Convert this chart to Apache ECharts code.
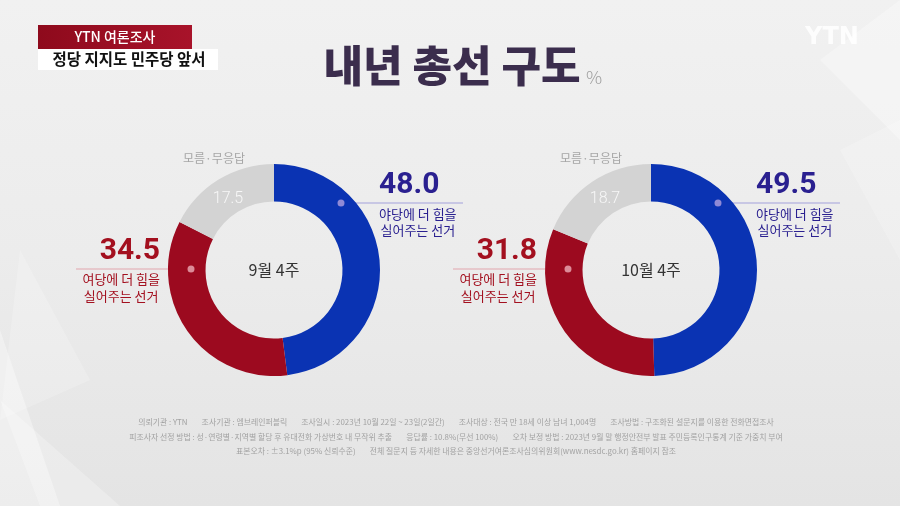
<!DOCTYPE html>
<html>
<head>
<meta charset="utf-8">
<script src="https://cdn.jsdelivr.net/npm/echarts@6/dist/echarts.min.js"></script>
<style>
html,body{margin:0;padding:0;background:#ececec;}
#chart{width:900px;height:506px;}
</style>
</head>
<body>
<div id="chart"></div>
<script>
// ---- data ----
const categories = ['야당에 더 힘을 실어주는 선거', '여당에 더 힘을 실어주는 선거', '모름·무응답'];
const categoryLines = [['야당에 더 힘을', '실어주는 선거'], ['여당에 더 힘을', '실어주는 선거'], ['모름·무응답']];
const weeks = ['9월 4주', '10월 4주'];
const septValues = [48.0, 34.5, 17.5];
const octValues = [49.5, 31.8, 18.7];
const titleText = '내년 총선 구도';
const unitText = '%';
const headerTop = 'YTN 여론조사';
const headerSub = '정당 지지도 민주당 앞서';
const footLines = [
  '의뢰기관 : YTN        조사기관 : 엠브레인퍼블릭        조사일시 : 2023년 10월 22일 ~ 23일(2일간)        조사대상 : 전국 만 18세 이상 남녀 1,004명        조사방법 : 구조화된 설문지를 이용한 전화면접조사',
  '피조사자 선정 방법 : 성·연령별·지역별 할당 후 유대전화 가상번호 내 무작위 추출        응답률 : 10.8%(무선 100%)        오차 보정 방법 : 2023년 9월 말 행정안전부 발표 주민등록인구통계 기준 가중치 부여',
  '표본오차 : ±3.1%p (95% 신뢰수준)        전체 질문지 등 자세한 내용은 중앙선거여론조사심의위원회(www.nesdc.go.kr) 홈페이지 참조'
];

// ---- layout / style ----
const KR = '"Noto Sans CJK KR", "Noto Sans", sans-serif';
const centers = [[274, 270], [651, 270]];
const radii = [68.5, 106];
const colors = ['#0a33b3', '#9c0a1f', '#d3d3d3'];
const blueText = '#2a2090', redText = '#a3101f';
const blueLine = '#a4a2dc', redLine = '#e2a6ae';

const chart = echarts.init(document.getElementById('chart'));

function labelFmt(p) {
  const i = p.dataIndex;
  if (i === 2) return '{g|' + p.value.toFixed(1) + '}';
  const k = i === 0 ? 'B' : 'R';
  return '{n' + k + '|' + p.value.toFixed(1) + '}\n{a' + k + '|' + categoryLines[i][0] + '}\n{b' + k + '|' + categoryLines[i][1] + '}';
}

function makeSeries(values, si) {
  const c = centers[si];
  return {
    type: 'pie',
    center: c,
    radius: radii,
    startAngle: 90,
    clockwise: true,
    silent: true,
    avoidLabelOverlap: false,
    data: values.map((v, i) => ({
      name: categories[i],
      value: v,
      itemStyle: { color: colors[i] },
      label: i === 2 ? { position: 'inside' } : { position: 'outside' },
      labelLine: { show: i !== 2 }
    })),
    label: {
      formatter: labelFmt,
      rich: {
        nB: { fontFamily: 'Roboto, sans-serif', fontSize: 30, fontWeight: 'bold', color: blueText, lineHeight: 35, align: 'left' },
        aB: { fontFamily: KR, fontSize: 13, color: blueText, lineHeight: 23, align: 'center' },
        bB: { fontFamily: KR, fontSize: 13, color: blueText, lineHeight: 8, align: 'center' },
        nR: { fontFamily: 'Roboto, sans-serif', fontSize: 30, fontWeight: 'bold', color: redText, lineHeight: 35, align: 'right' },
        aR: { fontFamily: KR, fontSize: 13, color: redText, lineHeight: 21, align: 'center' },
        bR: { fontFamily: KR, fontSize: 13, color: redText, lineHeight: 12, align: 'center' },
        g: { fontFamily: 'Roboto, sans-serif', fontSize: 16, fontWeight: 300, color: '#f7f7f7' }
      }
    },
    labelLine: { show: true, lineStyle: { width: 1 } },
    labelLayout: function (p) {
      const cc = centers[p.seriesIndex];
      if (p.dataIndex === 0) {
        const ly = cc[1] - 67;
        return {
          x: cc[0] + 105, y: ly - 35, align: 'left', verticalAlign: 'top',
          labelLinePoints: [[cc[0] + 67, ly], [cc[0] + 120, ly], [cc[0] + 189, ly]]
        };
      }
      if (p.dataIndex === 1) {
        const ly = cc[1] - 1;
        return {
          x: cc[0] - 114, y: ly - 35, align: 'right', verticalAlign: 'top',
          labelLinePoints: [[cc[0] - 83, ly], [cc[0] - 140, ly], [cc[0] - 198, ly]]
        };
      }
      return { x: cc[0] - 46, y: cc[1] - 71, align: 'center', verticalAlign: 'middle' };
    },
    emphasis: { disabled: true }
  };
}

const s0 = makeSeries(septValues, 0);
const s1 = makeSeries(octValues, 1);
[s0, s1].forEach(s => {
  s.data[0].labelLine = { show: true, lineStyle: { color: blueLine, width: 1.2 } };
  s.data[1].labelLine = { show: true, lineStyle: { color: redLine, width: 1.2 } };
});

const graphics = [];
// faint background triangles
const tri = (pts, op) => graphics.push({ type: 'polygon', silent: true, z: -10, shape: { points: pts }, style: { fill: '#ffffff', opacity: op } });
tri([[0, 330], [60, 506], [0, 506]], 0.35);
tri([[0, 400], [120, 506], [40, 506]], 0.25);
tri([[20, 250], [90, 380], [0, 420]], 0.2);
tri([[820, 60], [900, 0], [900, 140]], 0.3);
tri([[840, 150], [900, 120], [900, 260]], 0.2);

// header
graphics.push({ type: 'rect', shape: { x: 38, y: 25, width: 154, height: 24 }, style: { fill: new echarts.graphic.LinearGradient(0, 0, 1, 0, [{ offset: 0, color: '#8e0a1c' }, { offset: 1, color: '#a8132a' }]) } });
graphics.push({ type: 'rect', shape: { x: 38, y: 49, width: 180, height: 21 }, style: { fill: '#ffffff' } });
graphics.push({ type: 'text', x: 115, y: 37, style: { text: headerTop, fill: '#ffffff', font: '500 14px ' + KR, align: 'center', verticalAlign: 'middle' } });
graphics.push({ type: 'text', x: 129, y: 59.5, style: { text: headerSub, fill: '#111111', font: 'bold 15.5px ' + KR, align: 'center', verticalAlign: 'middle' } });
// YTN logo
graphics.push({ type: 'text', x: 832, y: 38, style: { text: 'YTN', fill: '#ffffff', opacity: 0.85, font: 'bold 24px "DejaVu Sans", sans-serif', align: 'center', verticalAlign: 'middle' } });
// title
graphics.push({ type: 'text', x: 452, y: 66, style: { text: titleText, fill: '#3b2d4d', font: '900 43px ' + KR, align: 'center', verticalAlign: 'middle' } });
graphics.push({ type: 'text', x: 594, y: 77, style: { text: unitText, fill: '#a0a0a0', font: '300 18px ' + KR, align: 'center', verticalAlign: 'middle' } });

centers.forEach((c, i) => {
  // centre week label
  graphics.push({ type: 'text', x: c[0], y: c[1], style: { text: weeks[i], fill: '#333333', font: '16px ' + KR, align: 'center', verticalAlign: 'middle' } });
  // "don't know" category name
  graphics.push({ type: 'text', x: c[0] - 60, y: c[1] - 112, style: { text: categoryLines[2][0], fill: '#a6a6a6', font: '12px ' + KR, align: 'center', verticalAlign: 'middle' } });
  // label dots
  graphics.push({ type: 'circle', shape: { cx: c[0] + 67, cy: c[1] - 67, r: 3.5 }, style: { fill: '#8f8ad6' }, z: 20 });
  graphics.push({ type: 'circle', shape: { cx: c[0] - 83, cy: c[1] - 1, r: 3.5 }, style: { fill: '#dc8c98' }, z: 20 });
});

// footnotes
footLines.forEach((t, i) => {
  graphics.push({ type: 'text', x: 456, y: 422 + i * 14.5, style: { text: t, fill: '#a2a2a2', font: '7.9px ' + KR, align: 'center', verticalAlign: 'middle' } });
});

chart.setOption({
  backgroundColor: new echarts.graphic.LinearGradient(0, 0, 0, 1, [
    { offset: 0, color: '#f1f1f1' },
    { offset: 0.5, color: '#ececec' },
    { offset: 1, color: '#e4e4e4' }
  ]),
  animation: false,
  graphic: graphics,
  series: [s0, s1]
});
</script>
</body>
</html>
